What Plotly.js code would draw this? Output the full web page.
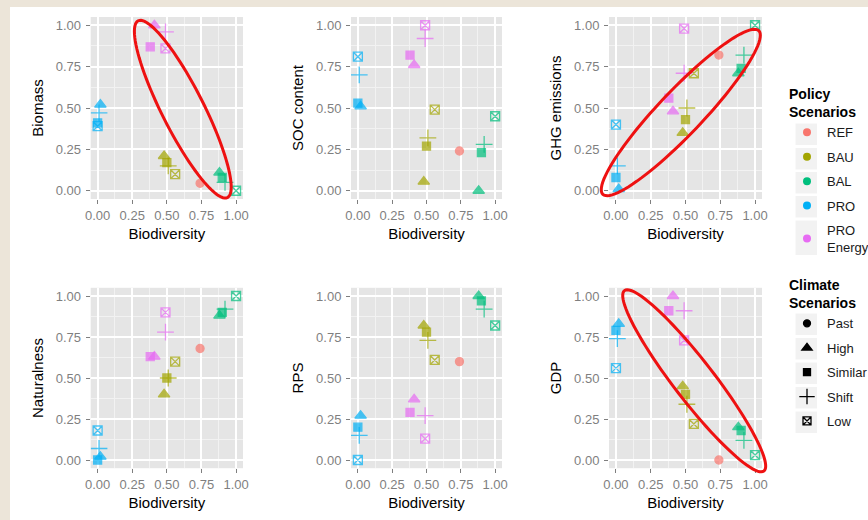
<!DOCTYPE html>
<html><head><meta charset="utf-8">
<script src="https://cdn.plot.ly/plotly-3.0.1.min.js"></script>
<style>html,body{margin:0;padding:0;background:#fff}#chart{width:868px;height:520px}</style>
</head><body><div id="chart"></div>
<script>
// ---------- data ----------
const policies = ['REF', 'BAU', 'BAL', 'PRO', 'PRO Energy'];
const climates = ['Past', 'High', 'Similar', 'Shift', 'Low'];
const indicatorNames = ['Biomass', 'SOC content', 'GHG emissions', 'Naturalness', 'RPS', 'GDP'];
const tickLabels = ['0.00', '0.25', '0.50', '0.75', '1.00'];
const tickValues = [0, 0.25, 0.5, 0.75, 1];

const pointPolicy = ['REF',
  'BAU', 'BAU', 'BAU', 'BAU',
  'BAL', 'BAL', 'BAL', 'BAL',
  'PRO', 'PRO', 'PRO', 'PRO',
  'PRO Energy', 'PRO Energy', 'PRO Energy', 'PRO Energy'];
const pointClimate = ['Past',
  'High', 'Similar', 'Shift', 'Low',
  'High', 'Similar', 'Shift', 'Low',
  'High', 'Similar', 'Shift', 'Low',
  'High', 'Similar', 'Shift', 'Low'];

const biodiversity = [0.74, 0.48, 0.50, 0.51, 0.56, 0.88, 0.90, 0.92, 1.00, 0.02, 0.00, 0.01, 0.00, 0.41, 0.38, 0.49, 0.49];
const biomass      = [0.045, 0.21, 0.17, 0.15, 0.10, 0.11, 0.08, 0.05, 0.00, 0.52, 0.41, 0.47, 0.39, 1.00, 0.87, 0.96, 0.86];
const socContent   = [0.24, 0.055, 0.27, 0.32, 0.49, 0.00, 0.23, 0.28, 0.45, 0.51, 0.53, 0.70, 0.81, 0.76, 0.82, 0.92, 1.00];
const ghgEmissions = [0.82, 0.35, 0.43, 0.50, 0.71, 0.71, 0.74, 0.82, 1.00, 0.01, 0.08, 0.15, 0.40, 0.48, 0.56, 0.71, 0.98];
const naturalness  = [0.68, 0.40, 0.50, 0.50, 0.60, 0.88, 0.90, 0.92, 1.00, 0.02, 0.00, 0.07, 0.18, 0.63, 0.63, 0.78, 0.90];
const rps          = [0.60, 0.82, 0.78, 0.73, 0.61, 1.00, 0.97, 0.92, 0.82, 0.27, 0.20, 0.15, 0.00, 0.37, 0.29, 0.27, 0.13];
const gdp          = [0.00, 0.45, 0.40, 0.34, 0.22, 0.20, 0.18, 0.12, 0.03, 0.83, 0.79, 0.74, 0.56, 1.00, 0.91, 0.91, 0.73];

// ---------- styles ----------
const policyColors = ['#F8766D', '#A3A500', '#00BF7D', '#00B0F6', '#E76BF3'];
const climateSymbols = ['circle', 'triangle-up', 'square', 'cross-thin-open', 'square-x-open'];
const climateSizes = [8, 10, 8, 12, 9];
const FONT = 'Liberation Sans, Arial, Helvetica, sans-serif';
const W = 868, H = 520;

const indicatorValues = [biomass, socContent, ghgEmissions, naturalness, rps, gdp];
// panel boxes in px: [left, right] per column, [top, bottom] per row
const colPx = [[90.7, 243], [351, 502], [609, 762]];
const rowPx = [[17, 199], [287.8, 468.2]];

const traces = [];
const layout = {
  width: W, height: H, autosize: false,
  margin: {l: 0, r: 0, t: 0, b: 0, pad: 0, autoexpand: false},
  paper_bgcolor: '#ffffff', plot_bgcolor: '#E5E5E5',
  font: {family: FONT, size: 13, color: '#1a1a1a'},
  showlegend: true,
  shapes: [], annotations: []
};

indicatorNames.forEach((name, p) => {
  const s = p === 0 ? '' : String(p + 1);
  const row = Math.floor(p / 3), col = p % 3;
  const vals = indicatorValues[p];
  policies.forEach((pol, k) => {
    const idx = [];
    pointPolicy.forEach((pp, i) => { if (pp === pol) idx.push(i); });
    traces.push({
      type: 'scatter', mode: 'markers',
      x: idx.map(i => biodiversity[i]),
      y: idx.map(i => vals[i]),
      text: idx.map(i => pointClimate[i]),
      xaxis: 'x' + s, yaxis: 'y' + s,
      showlegend: false, name: pol,
      hovertemplate: pol + ' / %{text}<br>Biodiversity %{x:.2f}<br>' + name + ' %{y:.2f}<extra></extra>',
      marker: {
        color: policyColors[k],
        symbol: idx.map(i => climateSymbols[climates.indexOf(pointClimate[i])]),
        size: idx.map(i => climateSizes[climates.indexOf(pointClimate[i])]),
        line: {color: policyColors[k], width: 1.3}
      }
    });
  });
  const axCommon = {
    range: [-0.05, 1.05], autorange: false, fixedrange: true,
    tickmode: 'array', tickvals: tickValues, ticktext: tickLabels,
    ticks: 'outside', ticklen: 4, tickwidth: 1, tickcolor: '#7f7f7f',
    tickfont: {family: FONT, size: 13, color: '#7f7f7f'},
    showgrid: true, gridcolor: '#ffffff', gridwidth: 1.6,
    minor: {tickmode: 'linear', tick0: 0.125, dtick: 0.25, showgrid: true, gridcolor: '#F2F2F2', gridwidth: 0.8, ticks: ''},
    zeroline: false, showline: false
  };
  layout['xaxis' + s] = Object.assign({}, axCommon, {
    domain: [colPx[col][0] / W, colPx[col][1] / W],
    anchor: 'y' + s,
    title: {text: 'Biodiversity', font: {family: FONT, size: 15, color: '#000'}, standoff: 6}
  });
  layout['yaxis' + s] = Object.assign({}, axCommon, {
    domain: [1 - rowPx[row][1] / H, 1 - rowPx[row][0] / H],
    anchor: 'x' + s, ticklabelstandoff: 2,
    title: {text: name, font: {family: FONT, size: 15, color: '#000'}, standoff: 8}
  });
});

// legend traces
policies.forEach((pol, k) => {
  traces.push({type: 'scatter', mode: 'markers', x: [null], y: [null], name: pol === 'PRO Energy' ? 'PRO<br>Energy' : pol,
    legend: 'legend', legendgroup: 'p' + k, showlegend: true, hoverinfo: 'skip',
    marker: {color: policyColors[k], symbol: 'circle', size: 8}});
});
climates.forEach((cl, k) => {
  traces.push({type: 'scatter', mode: 'markers', x: [null], y: [null], name: cl,
    legend: 'legend2', legendgroup: 'c' + k, showlegend: true, hoverinfo: 'skip',
    marker: {color: '#000', symbol: climateSymbols[k], size: climateSizes[k] - 1, line: {color: '#000', width: 1.3}}});
});
const legCommon = {
  xanchor: 'left', yanchor: 'top', bgcolor: 'rgba(0,0,0,0)', borderwidth: 0,
  traceorder: 'grouped', tracegroupgap: 4.5, itemclick: false, itemdoubleclick: false,
  font: {family: FONT, size: 13, color: '#1a1a1a'}
};
layout.legend = Object.assign({}, legCommon, {x: 787 / W, y: 1 - 81 / H,
  title: {text: 'Policy<br>Scenarios', side: 'top', font: {family: FONT, size: 14, color: '#000', weight: 'bold'}}});
layout.legend2 = Object.assign({}, legCommon, {x: 787 / W, y: 1 - 272 / H,
  title: {text: 'Climate<br>Scenarios', side: 'top', font: {family: FONT, size: 14, color: '#000', weight: 'bold'}}});

// background strips (slide texture at the edges)
layout.shapes.push({type: 'rect', xref: 'paper', yref: 'paper', x0: 0, x1: 10 / W, y0: 0, y1: 1, fillcolor: '#ECE5D9', line: {width: 0}, layer: 'below'});
layout.shapes.push({type: 'rect', xref: 'paper', yref: 'paper', x0: 0, x1: 1, y0: 1 - 7 / H, y1: 1, fillcolor: '#ECE5D9', line: {width: 0}, layer: 'below'});

// legend key backgrounds (aligned to the legend rows)
const keyBoxes = [[123.5, 145], [148, 169.5], [172, 193.5], [196, 217.5], [220.5, 255],
                  [313.5, 335], [338, 359.5], [362.5, 384], [387, 408.5], [411.5, 433]];
keyBoxes.forEach(b => layout.shapes.push({type: 'rect', xref: 'paper', yref: 'paper',
  x0: 795.5 / W, x1: 817 / W, y0: 1 - b[1] / H, y1: 1 - b[0] / H, fillcolor: '#F2F2F2', line: {width: 0}, layer: 'below'}));

// red highlight ellipses (pixel centre, semi-axes, screen rotation)
function ellipsePath(cx, cy, a, b, deg) {
  const th = deg * Math.PI / 180, n = 96;
  let d = '';
  for (let i = 0; i <= n; i++) {
    const t = 2 * Math.PI * i / n;
    const px = cx + a * Math.cos(t) * Math.cos(th) - b * Math.sin(t) * Math.sin(th);
    const py = cy + a * Math.cos(t) * Math.sin(th) + b * Math.sin(t) * Math.cos(th);
    d += (i === 0 ? 'M' : 'L') + (px / W).toFixed(5) + ',' + (1 - py / H).toFixed(5);
  }
  return d + 'Z';
}
[[182.8, 109.2, 99, 21, 63.2], [680.8, 112.5, 113, 22, -46.4], [694.2, 380.8, 114, 20, 52.3]].forEach(e => {
  layout.shapes.push({type: 'path', xref: 'paper', yref: 'paper', path: ellipsePath(...e),
    line: {color: '#EE1111', width: 3}, fillcolor: 'rgba(0,0,0,0)', layer: 'above'});
});

Plotly.newPlot('chart', traces, layout, {displayModeBar: false, staticPlot: false});
</script>
</body></html>
